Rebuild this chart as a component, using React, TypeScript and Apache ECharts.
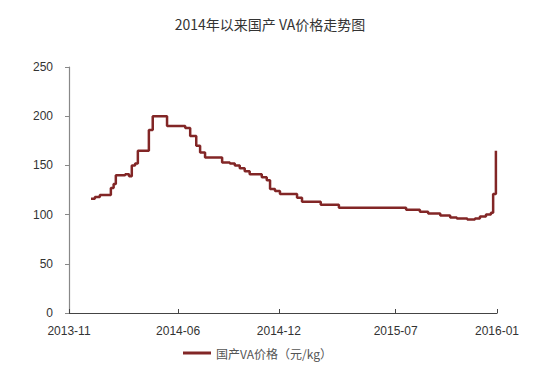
import React, { useEffect, useRef } from "react";
import * as echarts from "echarts";

const titleText = "2014年以来国产 VA价格走势图";
const seriesName = "国产VA价格（元/kg）";

// change dates (price steps) and values, in 元/kg
const dates = [
  "2013-12-25", "2014-01-01", "2014-01-10", "2014-01-30", "2014-02-04", "2014-02-08",
  "2014-02-25", "2014-03-04", "2014-03-09", "2014-03-15", "2014-03-20", "2014-04-09",
  "2014-04-16", "2014-05-12", "2014-06-14", "2014-06-23", "2014-07-04", "2014-07-11",
  "2014-07-20", "2014-08-20", "2014-09-03", "2014-09-12", "2014-09-21", "2014-09-30",
  "2014-10-09", "2014-10-31", "2014-11-09", "2014-11-15", "2014-11-24", "2014-12-03",
  "2015-01-03", "2015-01-12", "2015-02-15", "2015-03-20", "2015-07-20", "2015-08-14",
  "2015-08-29", "2015-09-20", "2015-10-08", "2015-10-20", "2015-11-08", "2015-11-22",
  "2015-12-01", "2015-12-12", "2015-12-21", "2015-12-25", "2015-12-30",
];
const prices = [
  116, 118, 120, 127, 131, 140,
  141, 139, 150, 152, 165, 186,
  200, 190, 188, 180, 170, 163,
  158, 153, 152, 150, 147, 144,
  141, 138, 135, 126, 124, 121,
  117, 113, 110, 107, 105, 103,
  101, 99, 97, 96, 95, 96,
  98, 100, 102, 121, 165,
];

const axisStart = "2013-11-15";
const axisEnd = "2016-01-01";
const tickDates = ["2013-11-15", "2014-06-01", "2014-12-01", "2015-07-01", "2016-01-01"];
const yMin = 0;
const yMax = 250;
const yStep = 50;

const ts = (d: string) => {
  const [y, m, dd] = d.split("-").map(Number);
  return Date.UTC(y, m - 1, dd);
};
const fmt = (v: number) => {
  const d = new Date(v);
  const m = d.getUTCMonth() + 1;
  return `${d.getUTCFullYear()}-${m < 10 ? "0" + m : m}`;
};

export default function App() {
  const ref = useRef<HTMLDivElement>(null);
  useEffect(() => {
    if (!ref.current) return;
    const chart = echarts.init(ref.current, undefined, { renderer: "svg" });
    const font = "'Liberation Sans', 'Noto Sans CJK SC', sans-serif";
    chart.setOption({
      animation: false,
      backgroundColor: "#ffffff",
      title: {
        text: titleText,
        left: "center",
        top: 12,
        textStyle: {
          fontSize: 14,
          fontWeight: "normal",
          color: "#333",
          fontFamily: "'Noto Sans CJK SC', sans-serif",
        },
      },
      legend: {
        data: [seriesName],
        left: 178,
        top: 342,
        icon: "rect",
        itemWidth: 28,
        itemHeight: 3,
        itemGap: 4,
        textStyle: {
          fontSize: 12,
          color: "#555",
          fontFamily: "'Noto Sans CJK SC', sans-serif",
        },
      },
      grid: { left: 69, right: 43, top: 67, bottom: 58, containLabel: false },
      xAxis: {
        type: "value",
        min: ts(axisStart),
        max: ts(axisEnd),
        splitLine: { show: false },
        axisLine: { show: true, lineStyle: { color: "#444", width: 1.2 } },
        axisTick: {
          show: true,
          inside: true,
          length: 4,
          lineStyle: { color: "#444" },
          customValues: tickDates.map(ts),
        },
        axisLabel: {
          customValues: tickDates.map(ts),
          formatter: (v: number) => fmt(v),
          fontSize: 12,
          color: "#333",
          margin: 12,
          fontFamily: font,
          showMinLabel: true,
          showMaxLabel: true,
        },
      },
      yAxis: {
        type: "value",
        min: yMin,
        max: yMax,
        interval: yStep,
        splitLine: { show: false },
        axisLine: { show: true, lineStyle: { color: "#888", width: 1.2 } },
        axisTick: { show: true, length: 4, lineStyle: { color: "#888" } },
        axisLabel: { fontSize: 12, color: "#333", margin: 16, fontFamily: font },
      },
      series: [
        {
          name: seriesName,
          type: "line",
          step: "end",
          showSymbol: false,
          symbol: "none",
          data: dates.map((d, i) => [ts(d), prices[i]]),
          lineStyle: { color: "#822626", width: 2.5 },
          itemStyle: { color: "#822626" },
        },
      ],
    });
    return () => chart.dispose();
  }, []);
  return <div ref={ref} style={{ width: 540, height: 371, margin: -8 }} />;
}
